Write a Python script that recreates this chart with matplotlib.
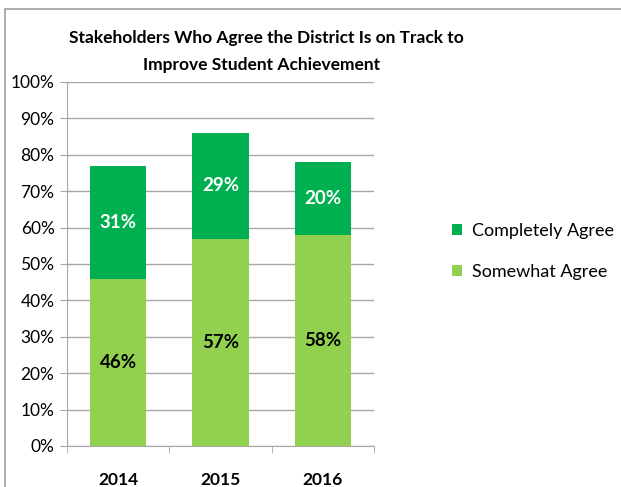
import matplotlib.pyplot as plt
import numpy as np
from matplotlib.patches import Rectangle
from matplotlib.ticker import PercentFormatter

years = ["2014", "2015", "2016"]
somewhat = [46, 57, 58]
completely = [31, 29, 20]

light_green = "#92D050"
dark_green = "#00B050"

plt.rcParams['font.family'] = ['Lato', 'DejaVu Sans']

fig = plt.figure(figsize=(6.21, 4.87), dpi=100)
ax = fig.add_axes([67 / 621, 41 / 487, 307 / 621, 364 / 487])

x = np.arange(len(years))
b1 = ax.bar(x, somewhat, width=0.55, color=light_green, label="Somewhat Agree", zorder=3)
b2 = ax.bar(x, completely, width=0.55, bottom=somewhat, color=dark_green,
            label="Completely Agree", zorder=3)

for i in range(len(years)):
    ax.text(x[i], somewhat[i] / 2, f"{somewhat[i]}%", ha="center", va="center",
            fontsize=13.5, fontweight="bold", color="black", zorder=4)
    ax.text(x[i], somewhat[i] + completely[i] / 2, f"{completely[i]}%", ha="center",
            va="center", fontsize=13.5, fontweight="bold", color="white", zorder=4)

ax.set_xlim(-0.5, 2.5)
ax.set_ylim(0, 100)
ax.set_yticks(np.arange(0, 101, 10))
ax.yaxis.set_major_formatter(PercentFormatter(decimals=0))
ax.yaxis.grid(True, color="#A6A6A6", linewidth=1, zorder=0)
ax.set_xticks(x)
ax.set_xticklabels(years, fontsize=12.5, fontweight="bold")
ax.set_xticks([-0.5, 0.5, 1.5, 2.5], minor=True)
ax.tick_params(axis="x", which="major", length=0, pad=19)
ax.tick_params(axis="x", which="minor", length=5, color="#A6A6A6", direction="out")
ax.tick_params(axis="y", length=5, color="#A6A6A6", labelsize=12.5, pad=4)
for s in ["top", "right"]:
    ax.spines[s].set_visible(False)
for s in ["left", "bottom"]:
    ax.spines[s].set_color("#A6A6A6")

handles = [b2, b1]
ax.legend(handles, [h.get_label() for h in handles], loc="center left",
          bbox_to_anchor=(1.2, 0.535), frameon=False, fontsize=13,
          handlelength=0.6, handleheight=0.6, handletextpad=0.5, labelspacing=1.4)

fig.text(266 / 621, 1 - 38 / 487, "Stakeholders Who Agree the District Is on Track to",
         ha="center", va="center", fontsize=12.5, fontweight="bold")
fig.text(262 / 621, 1 - 65 / 487, "Improve Student Achievement",
         ha="center", va="center", fontsize=12.5, fontweight="bold")

fig.patches.append(Rectangle((5 / 621, -0.1), 2, 1 - 9 / 487 + 0.1, transform=fig.transFigure,
                             fill=False, edgecolor="#A0A0A0", linewidth=1.2))

fig.savefig("out.png", dpi=100)
